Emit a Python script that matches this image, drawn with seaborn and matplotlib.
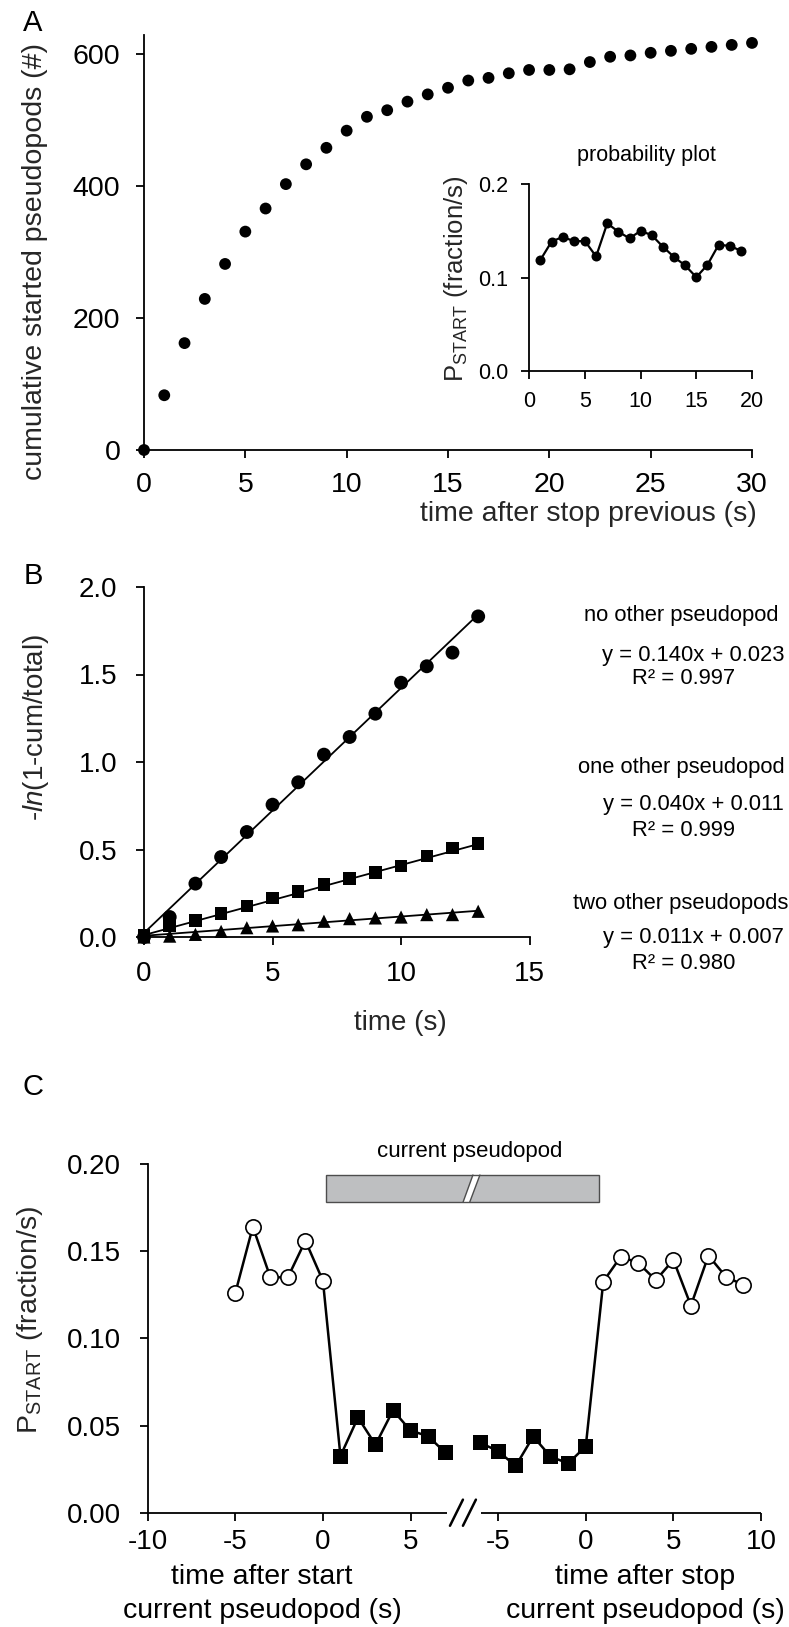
import numpy as np
import pandas as pd
import matplotlib
matplotlib.use("Agg")
import matplotlib.pyplot as plt
import seaborn as sns
from matplotlib.patches import Rectangle, Polygon
from matplotlib.ticker import FormatStrFormatter

# ---------------- data ----------------
# Panel A: cumulative started pseudopods
a_time = list(range(0, 31))
a_cum = [0, 83, 162, 229, 282, 331, 366, 403, 433, 458, 484, 505, 515, 528, 539,
         549, 560, 564, 571, 576, 576, 577, 588, 596, 598, 602, 605, 608, 611, 614, 617]
# inset: probability plot
inset_time = list(range(1, 20))
inset_p = [0.119, 0.1385, 0.1435, 0.139, 0.139, 0.1226, 0.158, 0.149, 0.142, 0.150,
           0.1453, 0.133, 0.122, 0.113, 0.1005, 0.1137, 0.135, 0.134, 0.1287]

# Panel B: -ln(1-cum/total)
b_time = list(range(0, 14))
b_none = [0.0, 0.114, 0.305, 0.457, 0.600, 0.756, 0.884, 1.042, 1.143, 1.276, 1.453, 1.547, 1.625, 1.832]
b_one = [0.01, 0.067, 0.095, 0.133, 0.177, 0.223, 0.261, 0.299, 0.333, 0.368, 0.406, 0.463, 0.51, 0.535]
b_two = [0.0, 0.005, 0.015, 0.032, 0.053, 0.063, 0.070, 0.090, 0.105, 0.109, 0.114, 0.128, 0.128, 0.147]
b_names = ["no other pseudopod", "one other pseudopod", "two other pseudopods"]
b_slope = [0.140, 0.040, 0.011]
b_icpt = [0.023, 0.011, 0.007]
b_r2 = [0.997, 0.999, 0.980]

# Panel C: P_START around current pseudopod
c_start_t = [-5, -4, -3, -2, -1, 0, 1, 2, 3, 4, 5, 6, 7]
c_start_p = [0.126, 0.164, 0.135, 0.135, 0.156, 0.133,
             0.0325, 0.0546, 0.039, 0.0587, 0.0471, 0.0439, 0.0343]
c_stop_t = [-6, -5, -4, -3, -2, -1, 0, 1, 2, 3, 4, 5, 6, 7, 8, 9]
c_stop_p = [0.040, 0.0353, 0.0268, 0.0437, 0.0321, 0.0283, 0.0381,
            0.1326, 0.1469, 0.1432, 0.1334, 0.145, 0.1188, 0.1475, 0.1353, 0.1306]
c_start_ticks = [-10, -5, 0, 5]
c_stop_ticks = [-5, 0, 5, 10]
c_bar_label = "current pseudopod"

# ---------------- style ----------------
sns.set_theme(style="ticks")
plt.rcParams["font.family"] = ["Liberation Sans", "DejaVu Sans"]
plt.rcParams["mathtext.fontset"] = "custom"
plt.rcParams["mathtext.rm"] = "Liberation Sans"
plt.rcParams["mathtext.it"] = "Liberation Sans:italic"
plt.rcParams["mathtext.sf"] = "Liberation Sans"
plt.rcParams["axes.linewidth"] = 1.3
plt.rcParams["axes.edgecolor"] = "black"
plt.rcParams["text.color"] = "black"
plt.rcParams["xtick.color"] = "black"
plt.rcParams["ytick.color"] = "black"

W, H = 789, 1627
fig = plt.figure(figsize=(W / 100, H / 100), dpi=100)
fig.patch.set_facecolor("white")


def box(left, right, top, bottom):
    return [left / W, 1 - bottom / H, (right - left) / W, (bottom - top) / H]


def style_axes(ax, fs, xpad, ypad):
    sns.despine(ax=ax)
    ax.set_facecolor("white")
    ax.grid(False)
    ax.tick_params(direction="out", length=6, width=1.3, labelsize=fs, colors="black")
    ax.tick_params(axis="x", pad=xpad)
    ax.tick_params(axis="y", pad=ypad)


# ---------------- Panel A ----------------
axA = fig.add_axes(box(144, 752, 35, 450))
dfA = pd.DataFrame({"t": a_time, "cum": a_cum})
sns.scatterplot(data=dfA, x="t", y="cum", ax=axA, color="black", s=8.5 ** 2,
                edgecolor="none", clip_on=False, zorder=3)
axA.set_xlim(0, 30)
axA.set_ylim(0, 629)
axA.set_xticks(range(0, 31, 5))
axA.set_yticks([0, 200, 400, 600])
style_axes(axA, 20.5, 10, 11)
axA.set_xlabel("time after stop previous (s)", fontsize=20.5, ha="right", va="center")
axA.xaxis.set_label_coords((757 - 144) / 608, (450 - 514) / 415)
axA.set_ylabel("cumulative started pseudopods (#)", fontsize=20.5, va="center")
axA.yaxis.set_label_coords((35 - 144) / 608, (450 - 262) / 415)

# inset
axI = fig.add_axes(box(529.3, 752, 184, 371.3))
dfI = pd.DataFrame({"t": inset_time, "p": inset_p})
sns.lineplot(data=dfI, x="t", y="p", ax=axI, color="black", linewidth=1.6,
             marker="o", markersize=7.2, markeredgewidth=0, clip_on=False)
axI.set_xlim(0, 20)
axI.set_ylim(0, 0.2)
axI.set_xticks(range(0, 21, 5))
axI.set_yticks([0.0, 0.1, 0.2])
axI.yaxis.set_major_formatter(FormatStrFormatter("%.1f"))
style_axes(axI, 15.5, 8, 9)
axI.set_xlabel("")
axI.set_ylabel(r"P$_{\mathrm{START}}$ (fraction/s)", fontsize=18.5, va="center")
axI.yaxis.set_label_coords((456 - 529.3) / 222.7, (371.3 - 279) / 187.3)
axI.text((646 - 529.3) / 222.7, (371.3 - 156) / 187.3, "probability plot",
         transform=axI.transAxes, ha="center", va="center", fontsize=15.5)

# ---------------- Panel B ----------------
axB = fig.add_axes(box(144, 529.6, 587, 937))
dfB = pd.DataFrame({"t": b_time * 3,
                    "v": b_none + b_one + b_two,
                    "group": [b_names[0]] * 14 + [b_names[1]] * 14 + [b_names[2]] * 14})
markers = {b_names[0]: "o", b_names[1]: "s", b_names[2]: "^"}
sizes_b = {b_names[0]: 10.0, b_names[1]: 9.0, b_names[2]: 9.5}
for name, slope, icpt in zip(b_names, b_slope, b_icpt):
    fit_x = [0, b_time[-1]]
    fit_y = [icpt + slope * x for x in fit_x]
    sns.lineplot(x=fit_x, y=fit_y, ax=axB, color="black", linewidth=1.3, zorder=2)
for name in b_names:
    sub = dfB[dfB["group"] == name]
    sns.scatterplot(data=sub, x="t", y="v", ax=axB, color="black", marker=markers[name],
                    s=sizes_b[name] ** 2, edgecolor="none", clip_on=False, zorder=3)
axB.set_xlim(0, 15)
axB.set_ylim(0, 2.0)
axB.set_xticks([0, 5, 10, 15])
axB.set_yticks([0.0, 0.5, 1.0, 1.5, 2.0])
axB.yaxis.set_major_formatter(FormatStrFormatter("%.1f"))
style_axes(axB, 20, 11, 13)
axB.set_xlabel("time (s)", fontsize=20, va="center")
axB.xaxis.set_label_coords((400 - 144) / 385.6, (937 - 1023) / 350)
axB.set_ylabel(r"-$\mathit{ln}$(1-cum/total)", fontsize=20, va="center")
axB.yaxis.set_label_coords((36 - 144) / 385.6, (937 - 728) / 350)

head_y = [615, 767, 903]
eq_y = [655, 805, 937]
r2_y = [679, 830, 963]
for name, slope, icpt, r2, hy, ey, ry in zip(b_names, b_slope, b_icpt, b_r2, head_y, eq_y, r2_y):
    fig.text(681 / W, 1 - hy / H, name, ha="center", va="center", fontsize=15.8)
    fig.text(784 / W, 1 - ey / H, f"y = {slope:.3f}x + {icpt:.3f}", ha="right",
             va="center", fontsize=15.8)
    fig.text(684 / W, 1 - ry / H, f"R\u00b2 = {r2:.3f}", ha="center", va="center",
             fontsize=15.8)

# ---------------- Panel C ----------------
offset = 15  # shift of the "after stop" segment on the shared x scale
break_lo, break_hi = 7.06, 9.0
axC = fig.add_axes(box(147.7, 761, 1164, 1512.7))
dfS = pd.DataFrame({"u": c_start_t, "p": c_start_p})
dfE = pd.DataFrame({"u": [t + offset for t in c_stop_t], "p": c_stop_p})
for df in (dfS, dfE):
    sns.lineplot(data=df, x="u", y="p", ax=axC, color="black", linewidth=1.8,
                 sort=False, zorder=2)
during_S = dfS[np.array(c_start_t) > 0]
outside_S = dfS[np.array(c_start_t) <= 0]
during_E = dfE[np.array(c_stop_t) <= 0]
outside_E = dfE[np.array(c_stop_t) > 0]
for d in (during_S, during_E):
    sns.scatterplot(data=d, x="u", y="p", ax=axC, marker="s", color="black",
                    s=10.8 ** 2, edgecolor="none", zorder=3)
for d in (outside_S, outside_E):
    sns.scatterplot(data=d, x="u", y="p", ax=axC, marker="o", facecolor="white",
                    edgecolor="black", linewidth=1.2, s=11.0 ** 2, zorder=3)
axC.set_xlim(-10, 25)
axC.set_ylim(0, 0.2)
axC.set_yticks([0.0, 0.05, 0.10, 0.15, 0.20])
axC.yaxis.set_major_formatter(FormatStrFormatter("%.2f"))
tick_u = c_start_ticks + [t + offset for t in c_stop_ticks]
axC.set_xticks(tick_u)
axC.set_xticklabels([f"{t:d}" for t in c_start_ticks + c_stop_ticks])
style_axes(axC, 20, 6, 13)
axC.spines["bottom"].set_visible(False)
axC.plot([-10, break_lo], [0, 0], color="black", lw=1.3, clip_on=False,
         solid_capstyle="butt", zorder=4)
axC.plot([break_hi, 25], [0, 0], color="black", lw=1.3, clip_on=False,
         solid_capstyle="butt", zorder=4)
for cu in (7.62, 8.36):
    axC.plot([cu - 0.37, cu + 0.37], [-0.0075, 0.0075], color="black", lw=1.8,
             clip_on=False, zorder=4)
axC.set_xlabel("")
axC.set_ylabel(r"P$_{\mathrm{START}}$ (fraction/s)", fontsize=20.5, va="center")
axC.yaxis.set_label_coords((30 - 147.7) / 613.3, (1512.7 - 1320) / 348.7)

# current pseudopod bar
bar_lo, bar_hi, bar_y0, bar_y1 = 0.2, 15.75, 0.1782, 0.1937
axC.add_patch(Rectangle((bar_lo, bar_y0), bar_hi - bar_lo, bar_y1 - bar_y0,
                        facecolor="#bebfc1", edgecolor="none", zorder=1))
axC.add_patch(Polygon([(8.0, bar_y0), (8.38, bar_y0), (8.96, bar_y1), (8.56, bar_y1)],
                      closed=True, facecolor="white", edgecolor="none", zorder=1.5))
axC.plot([8.0, 8.56], [bar_y0, bar_y1], color="#4d4d4d", lw=1.0, zorder=1.6)
axC.plot([8.38, 8.96], [bar_y0, bar_y1], color="#4d4d4d", lw=1.0, zorder=1.6)
axC.add_patch(Rectangle((bar_lo, bar_y0), bar_hi - bar_lo, bar_y1 - bar_y0,
                        facecolor="none", edgecolor="#4d4d4d", lw=1.0, zorder=1.7))
axC.text(8.4, 0.207, c_bar_label, ha="center", va="center", fontsize=16)

fig.text(262 / W, 1 - 1577 / H, "time after start", ha="center", va="center", fontsize=20.5)
fig.text(262 / W, 1 - 1611 / H, "current pseudopod (s)", ha="center", va="center", fontsize=20.5)
fig.text(645 / W, 1 - 1577 / H, "time after stop", ha="center", va="center", fontsize=20.5)
fig.text(645 / W, 1 - 1611 / H, "current pseudopod (s)", ha="center", va="center", fontsize=20.5)

# panel letters
for letter, ly in (("A", 23), ("B", 576), ("C", 1087)):
    fig.text(33 / W, 1 - ly / H, letter, ha="center", va="center", fontsize=21)

fig.savefig("out.png", dpi=100, facecolor="white")
